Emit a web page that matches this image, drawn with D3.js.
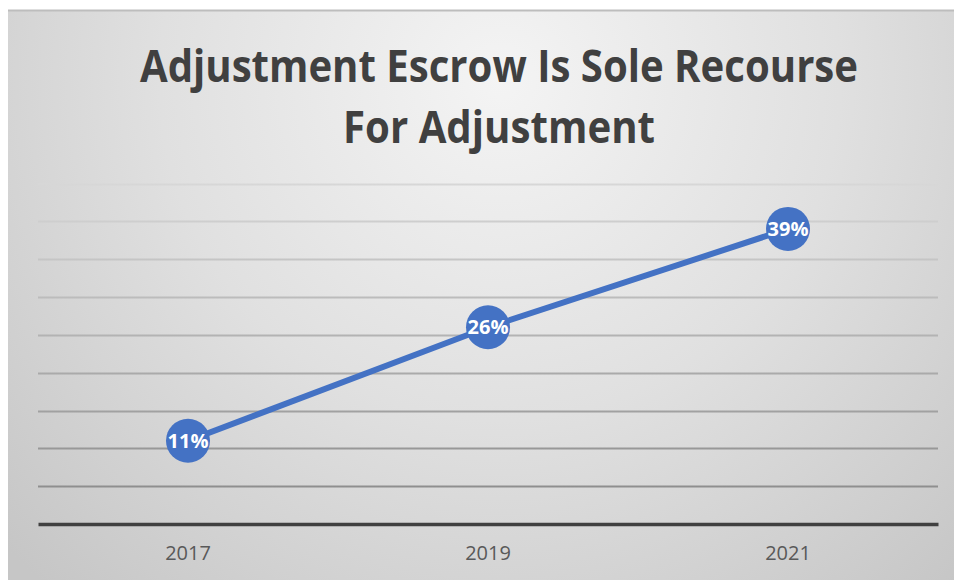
<!DOCTYPE html>
<html>
<head>
<meta charset="utf-8">
<script src="https://cdn.jsdelivr.net/npm/d3@7"></script>
<style>
  body { margin: 0; background: #fff; }
  svg { display: block; }
</style>
</head>
<body>
<div id="chart"></div>
<script>
// chart data
var years = ["2017", "2019", "2021"];
var shares = [11, 26, 39];
var gridTicks = [0, 5, 10, 15, 20, 25, 30, 35, 40, 45];
var titleLines = ["Adjustment Escrow Is Sole Recourse", "For Adjustment"];

var W = 954, H = 580;
var svg = d3.select("#chart").append("svg").attr("width", W).attr("height", H);
var defs = svg.append("defs");

// background gradient, light near the title and darker to the edges
var bg = defs.append("radialGradient").attr("id", "bg")
    .attr("gradientUnits", "userSpaceOnUse")
    .attr("cx", 500).attr("cy", 80).attr("r", 680);
bg.append("stop").attr("offset", "0%").attr("stop-color", "#f4f4f4");
bg.append("stop").attr("offset", "50%").attr("stop-color", "#e0e0e0");
bg.append("stop").attr("offset", "100%").attr("stop-color", "#c6c6c6");

// gridlines get darker towards the bottom
var gl = defs.append("linearGradient").attr("id", "grid")
    .attr("gradientUnits", "userSpaceOnUse")
    .attr("x1", 0).attr("y1", 180).attr("x2", 0).attr("y2", 490);
gl.append("stop").attr("offset", "0%").attr("stop-color", "#d8d8d8");
gl.append("stop").attr("offset", "100%").attr("stop-color", "#8e8e8e");

svg.append("rect").attr("x", 8).attr("y", 10).attr("width", W - 8).attr("height", H - 10)
    .attr("fill", "url(#bg)");
svg.append("line").attr("x1", 8).attr("x2", W).attr("y1", 10.5).attr("y2", 10.5)
    .attr("stroke", "#bdbdbd").attr("stroke-width", 2);

// scales
var x = d3.scaleBand().domain(years).range([38, 938]);
var y = d3.scaleLinear().domain([0, 45]).range([524, 183.5]);

// gridlines
svg.append("g").selectAll("line").data(gridTicks.slice(1)).enter().append("line")
    .attr("x1", 38).attr("x2", 938)
    .attr("y1", (d) => Math.round(y(d)) + 0.5).attr("y2", (d) => Math.round(y(d)) + 0.5)
    .attr("stroke", "url(#grid)").attr("stroke-width", 2);

// x axis
var xAxis = svg.append("g").attr("transform", "translate(0," + y(0) + ")")
    .call(d3.axisBottom(x).tickSize(0).tickPadding(22));
xAxis.select(".domain").attr("stroke", "#404040").attr("stroke-width", 3.5);
xAxis.selectAll("text")
    .attr("font-family", "'Open Sans', sans-serif").attr("font-size", 20)
    .attr("fill", "#595959");

// title
svg.append("g").selectAll("text").data(titleLines).enter().append("text")
    .text((d) => d)
    .attr("x", 499).attr("y", (d, i) => 82 + i * 61)
    .attr("text-anchor", "middle")
    .attr("font-family", "'Open Sans', sans-serif").attr("font-weight", "bold")
    .attr("font-size", 44).attr("fill", "#404040")
    .attr("textLength", (d, i) => i == 0 ? 718 : 312)
    .attr("lengthAdjust", "spacingAndGlyphs");

// series line
var pts = years.map((d, i) => [x(d) + x.bandwidth() / 2, y(shares[i])]);
svg.append("path").attr("d", d3.line()(pts))
    .attr("fill", "none").attr("stroke", "#4472c4").attr("stroke-width", 6)
    .attr("stroke-linecap", "round");

// markers and labels
var marks = svg.append("g").selectAll("g").data(pts).enter().append("g")
    .attr("transform", (d) => "translate(" + d[0] + "," + d[1] + ")");
marks.append("circle").attr("r", 22).attr("fill", "#4472c4");
marks.append("text").text((d, i) => shares[i] + "%")
    .attr("text-anchor", "middle").attr("dy", "0.36em")
    .attr("font-family", "'Open Sans', sans-serif").attr("font-weight", "bold")
    .attr("font-size", 20).attr("fill", "#fff");
</script>
</body>
</html>
